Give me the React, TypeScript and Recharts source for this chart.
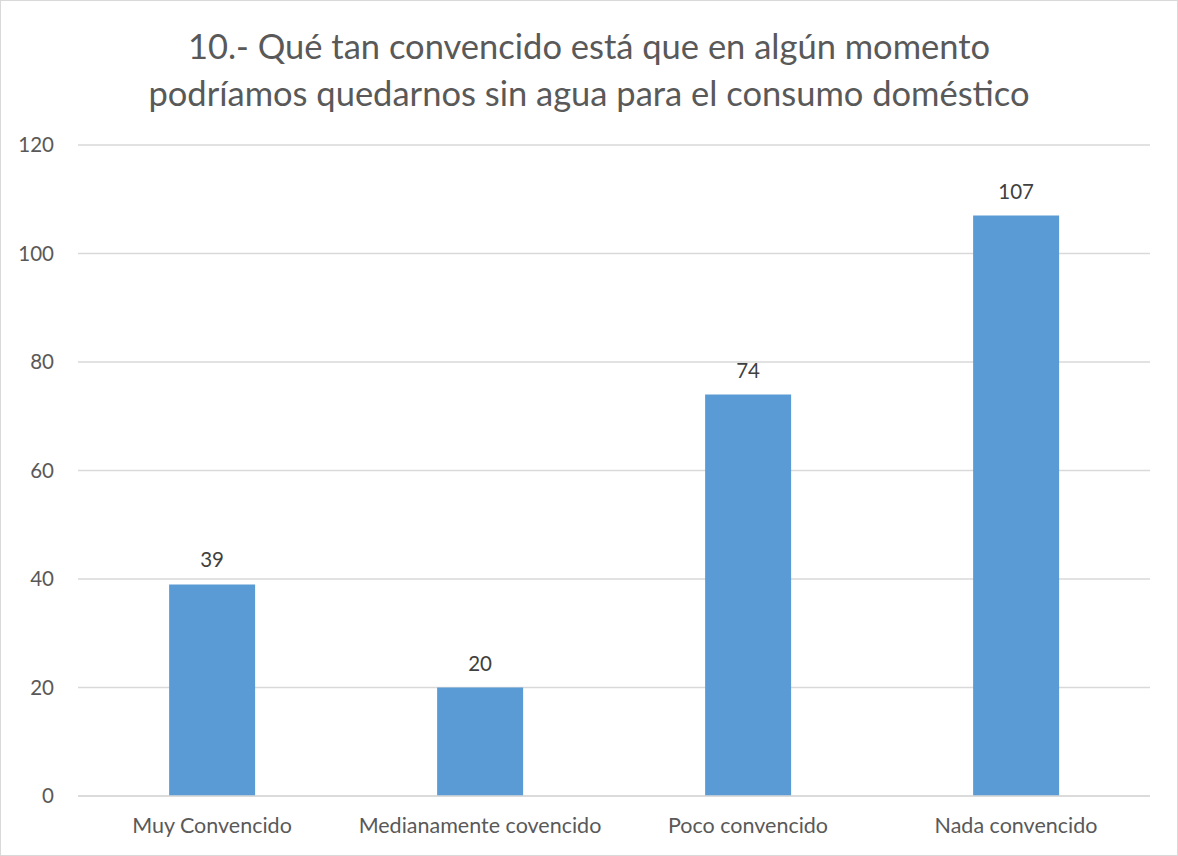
import { BarChart, Bar, XAxis, YAxis, CartesianGrid, LabelList } from "recharts";

const categories = ["Muy Convencido", "Medianamente covencido", "Poco convencido", "Nada convencido"];
const respuestas = [39, 20, 74, 107];
const yTicks = [0, 20, 40, 60, 80, 100, 120];
const titleLines = [
  "10.- Qué tan convencido está que en algún momento",
  "podríamos quedarnos sin agua para el consumo doméstico",
];

const data = categories.map((name, i) => ({ name, value: respuestas[i] }));

const FONT = "Lato, 'Open Sans', sans-serif";
const TEXT = "#595959";

export default function App() {
  return (
    <div
      style={{
        position: "absolute",
        left: 0,
        top: 0,
        width: 1178,
        height: 856,
        boxSizing: "border-box",
        border: "1px solid #d9d9d9",
        background: "#fff",
        fontFamily: FONT,
      }}
    >
      <div
        style={{
          position: "absolute",
          left: 0,
          right: 0,
          top: 21,
          textAlign: "center",
          color: TEXT,
          fontSize: 34.5,
          lineHeight: "47px",
        }}
      >
        {titleLines.map((l) => (
          <div key={l}>{l}</div>
        ))}
      </div>
      <div style={{ position: "absolute", left: -1, top: -1 }}>
        <BarChart
          width={1178}
          height={856}
          data={data}
          margin={{ top: 145, right: 28, left: 0, bottom: 0 }}
          barCategoryGap="34%"
        >
          <CartesianGrid vertical={false} stroke="#d9d9d9" strokeWidth={1.5} />
          <XAxis
            dataKey="name"
            height={60}
            axisLine={{ stroke: "#d9d9d9", strokeWidth: 1.5 }}
            tickLine={false}
            tickMargin={16}
            tick={{ fill: TEXT, fontSize: 21.5, fontFamily: FONT }}
            interval={0}
          />
          <YAxis
            width={78}
            domain={[0, 120]}
            ticks={yTicks}
            axisLine={false}
            tickLine={false}
            tickMargin={18}
            tick={{ fill: TEXT, fontSize: 20.5, fontFamily: FONT }}
          />
          <Bar dataKey="value" fill="#5b9bd5" isAnimationActive={false}>
            <LabelList
              dataKey="value"
              position="top"
              offset={17}
              style={{ fill: "#404040", fontSize: 20.5, fontFamily: FONT }}
            />
          </Bar>
        </BarChart>
      </div>
    </div>
  );
}
